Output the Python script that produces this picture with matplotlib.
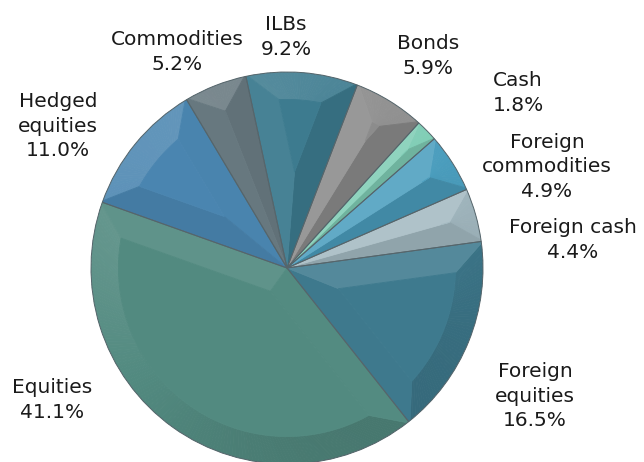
import numpy as np
import matplotlib
matplotlib.use("Agg")
import matplotlib.pyplot as plt
from matplotlib.patches import Polygon
from matplotlib import colors as mcolors

#########################
# Data
labels = ["ILBs", "Bonds", "Cash", "Foreign\ncommodities", "Foreign cash",
          "Foreign\nequities", "Equities", "Hedged\nequities", "Commodities"]
shares = [9.2, 5.9, 1.8, 4.9, 4.4, 16.5, 41.1, 11.0, 5.2]
colours = ["#3d7b8f", "#8c8c8c", "#7fcdb5", "#4a9dbd", "#a3b9c1",
           "#3e7a8e", "#528a80", "#4a85b0", "#66777e"]

# label centres in pixels (x from left, y from top)
label_pos = [(286, 37), (428, 56), (518, 93), (547, 167), (573, 240),
             (535, 396), (52, 400), (58, 126), (177, 52)]
#########################

W, H = 644, 462
cx, cy, R = 287, H - 268, 196
bevel = 0.14 * R

plt.rcParams['font.family'] = ['DejaVu Sans']
plt.rcParams['font.size'] = 14.5

fig = plt.figure(figsize=(W/100, H/100), dpi=100)
ax = fig.add_axes([0, 0, 1, 1])

wedges, _ = ax.pie(shares, colors=colours, startangle=102.1, counterclock=False,
                   center=(cx, cy), radius=R, frame=True,
                   wedgeprops=dict(edgecolor="#55656b", linewidth=0.7))
ax.set_xlim(0, W)
ax.set_ylim(0, H)
ax.set_aspect("equal")
ax.axis("off")


def shade(col, normal_deg, amp=0.13):
    # light from upper left
    f = np.cos(np.radians(normal_deg - 125))
    rgb = np.array(mcolors.to_rgb(col))
    if f > 0:
        rgb = rgb + (1 - rgb) * amp * f
    else:
        rgb = rgb * (1 + amp * f)
    return np.clip(rgb, 0, 1)


def pt(r, a):
    return (cx + r*np.cos(np.radians(a)), cy + r*np.sin(np.radians(a)))


# soft bevel facets on each slice
for w, col in zip(wedges, colours):
    t1, t2 = w.theta1, w.theta2
    half = (t2 - t1) / 2
    mid = t1 + half
    d0 = min(bevel / np.sin(np.radians(half)), (R - bevel) * 0.95)
    delta = min(np.degrees(np.arcsin(bevel / (R - bevel))), half)
    apex = pt(d0, mid)
    n = max(int((t2 - t1) / 1.0), 2)
    outer_a = np.linspace(t1, t2, n + 1)
    inner_a = np.linspace(t1 + delta, t2 - delta, n + 1)
    facets = []
    for k in range(n):
        quad = [pt(R + 2, outer_a[k]), pt(R + 2, outer_a[k+1]),
                pt(R - bevel, inner_a[k+1]), pt(R - bevel, inner_a[k])]
        facets.append((quad, (outer_a[k] + outer_a[k+1]) / 2))
    facets.append(([(cx, cy), pt(R + 2, t1), pt(R - bevel, inner_a[0]), apex], t1 - 90))
    facets.append(([(cx, cy), apex, pt(R - bevel, inner_a[-1]), pt(R + 2, t2)], t2 + 90))
    for verts, normal in facets:
        c = shade(col, normal)
        p = Polygon(verts, closed=True, facecolor=c, edgecolor=c, linewidth=0.6,
                    zorder=w.get_zorder() + 0.1)
        ax.add_patch(p)
        p.set_clip_path(w)
    face = [apex] + [pt(R - bevel, a) for a in inner_a]
    p = Polygon(face, closed=True, facecolor=col, edgecolor=col, linewidth=0.6,
                zorder=w.get_zorder() + 0.2)
    ax.add_patch(p)
    p.set_clip_path(w)
    # outline on top
    w.set_zorder(w.get_zorder() + 0.3)
    w.set_facecolor("none")

for lab, val, (x, y) in zip(labels, shares, label_pos):
    ax.text(x, H - y, "%s\n%.1f%%" % (lab, val), ha="center", va="center",
            color="#1a1a1a", linespacing=1.38)

plt.savefig("out.png", dpi=100)
